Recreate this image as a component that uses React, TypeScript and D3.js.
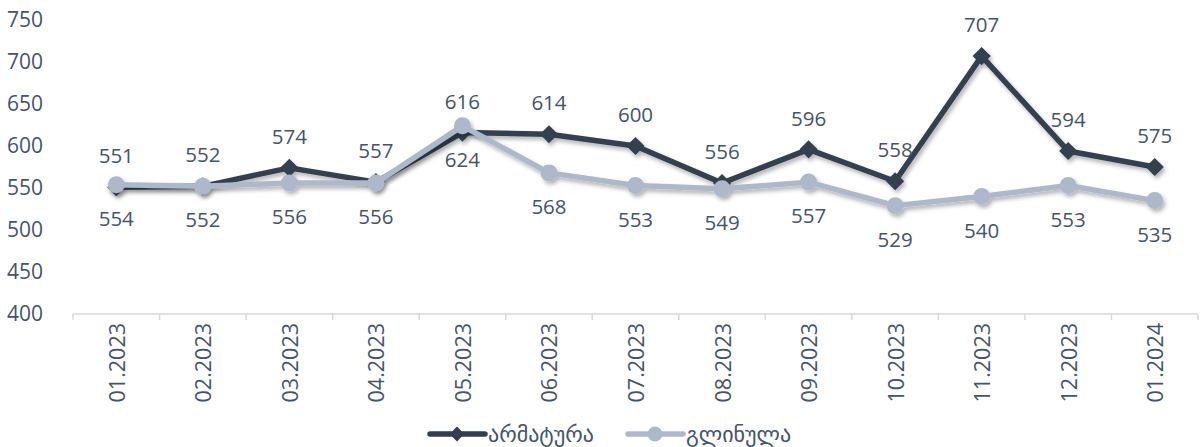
import React, { useEffect, useRef } from "react";
import * as d3 from "d3";

// months on the x axis
const months = ["01.2023", "02.2023", "03.2023", "04.2023", "05.2023", "06.2023", "07.2023",
  "08.2023", "09.2023", "10.2023", "11.2023", "12.2023", "01.2024"];
// armatura (dark, diamonds)
const armatura = [551, 552, 574, 557, 616, 614, 600, 556, 596, 558, 707, 594, 575];
// glinula (light, circles)
const glinula = [554, 552, 556, 556, 624, 568, 553, 549, 557, 529, 540, 553, 535];
const yTicks = [400, 450, 500, 550, 600, 650, 700, 750];
const seriesNames = ["არმატურა", "გლინულა"];

const DARK = "#333f50";
const LIGHT = "#adb9ca";
const TEXT = "#44546a";
const FONT = "'Open Sans', 'DejaVu Sans', sans-serif";

function App() {
  const ref = useRef<SVGSVGElement>(null);

  useEffect(() => {
    drawChart();
  }, []);

  const drawChart = () => {
    const svg = d3.select(ref.current);
    svg.selectAll("*").remove();

    const x = d3.scaleBand().domain(months).range([73, 1198]);
    const y = d3.scaleLinear().domain([400, 750]).range([314, 20]);
    const cx = (m: string) => (x(m) as number) + x.bandwidth() / 2;

    // shadow
    const defs = svg.append("defs");
    const f = defs.append("filter").attr("id", "shadow").attr("x", "-10%").attr("y", "-20%")
      .attr("width", "120%").attr("height", "150%");
    f.append("feDropShadow").attr("dx", 2).attr("dy", 3).attr("stdDeviation", 2)
      .attr("flood-color", "#000").attr("flood-opacity", 0.3);

    // y labels
    svg.append("g").selectAll("text").data(yTicks).enter().append("text")
      .attr("x", 7).attr("y", d => y(d)).attr("dy", "0.35em")
      .attr("fill", TEXT).style("font-family", FONT).style("font-size", "21px")
      .text(d => d);

    // x axis
    const xAxis = svg.append("g").attr("transform", "translate(0,314)");
    xAxis.append("line").attr("x1", 73).attr("x2", 1198).attr("stroke", "#d9d9d9").attr("stroke-width", 1.5);
    xAxis.selectAll("line.tick").data(months.concat(["end"])).enter().append("line")
      .attr("class", "tick")
      .attr("x1", (d, i) => 73 + i * x.bandwidth())
      .attr("x2", (d, i) => 73 + i * x.bandwidth())
      .attr("y1", 0).attr("y2", 6).attr("stroke", "#d9d9d9").attr("stroke-width", 1.5);
    xAxis.selectAll("text").data(months).enter().append("text")
      .attr("transform", d => `translate(${cx(d) + 1},9) rotate(-90)`)
      .attr("text-anchor", "end").attr("dy", "0.35em")
      .attr("fill", TEXT).style("font-family", FONT).style("font-size", "21.5px")
      .text(d => d);

    const line = d3.line<number>().x((d, i) => cx(months[i])).y(d => y(d));
    const diamond = d3.symbol().type(d3.symbolSquare).size(165);

    // armatura
    const g1 = svg.append("g").attr("filter", "url(#shadow)");
    g1.append("path").datum(armatura).attr("d", line).attr("fill", "none")
      .attr("stroke", DARK).attr("stroke-width", 5.5).attr("stroke-linejoin", "round");
    g1.selectAll("path.m").data(armatura).enter().append("path").attr("class", "m")
      .attr("transform", (d, i) => `translate(${cx(months[i])},${y(d)}) rotate(45)`)
      .attr("d", diamond).attr("fill", DARK);

    // glinula
    const g2 = svg.append("g").attr("filter", "url(#shadow)");
    g2.append("path").datum(glinula).attr("d", line).attr("fill", "none")
      .attr("stroke", LIGHT).attr("stroke-width", 5.5).attr("stroke-linejoin", "round");
    g2.selectAll("circle").data(glinula).enter().append("circle")
      .attr("cx", (d, i) => cx(months[i])).attr("cy", d => y(d)).attr("r", 8.5).attr("fill", LIGHT);

    // labels
    svg.append("g").selectAll("text").data(armatura).enter().append("text")
      .attr("x", (d, i) => cx(months[i])).attr("y", d => y(d) - 31).attr("dy", "0.35em")
      .attr("text-anchor", "middle").attr("fill", TEXT)
      .style("font-family", FONT).style("font-size", "20.5px").text(d => d);
    svg.append("g").selectAll("text").data(glinula).enter().append("text")
      .attr("x", (d, i) => cx(months[i])).attr("y", d => y(d) + 34).attr("dy", "0.35em")
      .attr("text-anchor", "middle").attr("fill", TEXT)
      .style("font-family", FONT).style("font-size", "20.5px").text(d => d);

    // legend
    const legend = svg.append("g").attr("transform", "translate(0,434)");
    const items = [
      { name: seriesNames[0], color: DARK, x0: 430, marker: "diamond" },
      { name: seriesNames[1], color: LIGHT, x0: 628, marker: "circle" },
    ];
    items.forEach(it => {
      legend.append("line").attr("x1", it.x0).attr("x2", it.x0 + 55).attr("y1", 0).attr("y2", 0)
        .attr("stroke", it.color).attr("stroke-width", 5.5).attr("stroke-linecap", "round");
      if (it.marker === "diamond") {
        legend.append("path").attr("transform", `translate(${it.x0 + 27},0) rotate(45)`)
          .attr("d", d3.symbol().type(d3.symbolSquare).size(110)).attr("fill", it.color);
      } else {
        legend.append("circle").attr("cx", it.x0 + 27).attr("cy", 0).attr("r", 7.5).attr("fill", it.color);
      }
      legend.append("text").attr("x", it.x0 + 58).attr("y", 0).attr("dy", "0.35em")
        .attr("fill", TEXT).style("font-family", FONT).style("font-size", "22px").text(it.name);
    });
  };

  return (
    <svg ref={ref} width={1203} height={447}
      style={{ position: "absolute", left: 0, top: 0, background: "#fff" }}></svg>
  );
}

export default App;
